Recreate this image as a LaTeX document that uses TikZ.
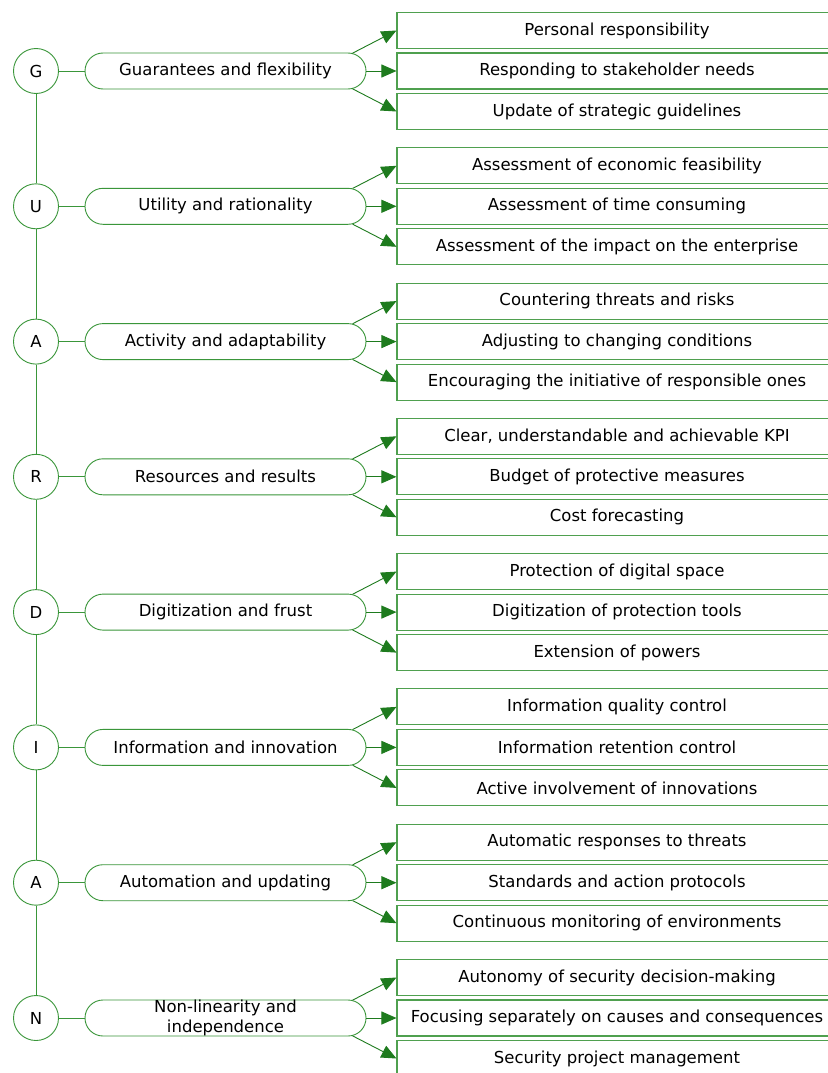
\documentclass[tikz,border=0pt]{standalone}
\usepackage{fontspec}
\setmainfont{DejaVu Sans}
\usetikzlibrary{shapes.misc,arrows.meta}
\definecolor{lg}{HTML}{3A963A}
\definecolor{bxg}{HTML}{4FA04F}
\definecolor{af}{HTML}{1E7B1E}
\newcommand{\diagrow}[8]{%
  \node[letter] (c#1) at (36,#2) {#3};
  \node[pill] (p#1) at (225.5,#2) {#4};
  \node[itembox] (b#1a) at (617,#2-40.5) {#5};
  \node[itembox] (b#1b) at (617,#2) {#6};
  \node[itembox] (b#1c) at (617,#2+40.5) {#7};
  \draw[conn] (c#1) -- (p#1);
  \draw[arr] (p#1.8) -- (b#1a.west);
  \draw[arr] (p#1.east) -- (b#1b.west);
  \draw[arr] (p#1.-8) -- (b#1c.west);
}
\begin{document}
\begin{tikzpicture}[x=1pt,y=-1pt,
  txt/.style={font=\fontsize{16.5}{20}\selectfont},
  letter/.style={circle,draw=lg,line width=0.9pt,minimum size=45pt,inner sep=0pt,fill=white,txt},
  pill/.style={rounded rectangle,draw=lg,line width=0.9pt,minimum width=281pt,minimum height=36pt,inner sep=0pt,align=center,txt},
  itembox/.style={rectangle,draw=bxg,line width=1.1pt,minimum width=440pt,minimum height=36pt,inner sep=0pt,txt},
  conn/.style={draw=lg,line width=0.9pt},
  arr/.style={draw=lg,line width=0.9pt,-{Triangle[length=15pt,width=13pt,fill=af]},color=af},
]
\useasboundingbox[fill=white] (0,0) rectangle (827,1073);
\diagrow{1}{71}{G}{Guarantees and flexibility}{Personal responsibility}{Responding to stakeholder needs}{Update of strategic guidelines}{}
\diagrow{2}{206.3}{U}{Utility and rationality}{Assessment of economic feasibility}{Assessment of time consuming}{Assessment of the impact on the enterprise}{}
\diagrow{3}{341.6}{A}{Activity and adaptability}{Countering threats and risks}{Adjusting to changing conditions}{Encouraging the initiative of responsible ones}{}
\diagrow{4}{476.8}{R}{Resources and results}{Clear, understandable and achievable KPI}{Budget of protective measures}{Cost forecasting}{}
\diagrow{5}{612.1}{D}{Digitization and frust}{Protection of digital space}{Digitization of protection tools}{Extension of powers}{}
\diagrow{6}{747.4}{I}{Information and innovation}{Information quality control}{Information retention control}{Active involvement of innovations}{}
\diagrow{7}{882.7}{A}{Automation and updating}{Automatic responses to threats}{Standards and action protocols}{Continuous monitoring of environments}{}
\diagrow{8}{1018}{N}{Non-linearity and\\independence}{Autonomy of security decision-making}{Focusing separately on causes and consequences}{Security project management}{}
\foreach \i [evaluate=\i as \j using int(\i+1)] in {1,...,7} {
  \draw[conn] (c\i) -- (c\j);
}
\end{tikzpicture}
\end{document}
